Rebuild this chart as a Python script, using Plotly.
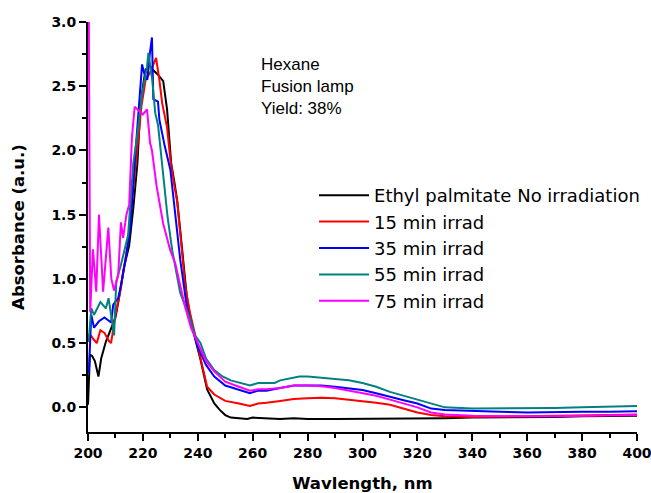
import plotly.graph_objects as go

# Ethyl palmitate, no irradiation
wl_black = [200.0, 200.7, 201.5, 202.5, 203.8, 204.8, 206.5, 208.4, 210.0, 211.3, 213.0, 215.0,
            216.5, 218.0, 219.0, 220.0, 221.0, 222.5, 224.0, 225.5, 227.4, 228.8, 229.6, 230.3,
            231.5, 232.5, 234.3, 236.0, 238.0, 240.0, 241.0, 243.4, 246.0, 248.0, 250.0, 252.0,
            255.0, 258.0, 260.0, 265.0, 270.0, 275.0, 280.0, 290.0, 300.0, 310.0, 320.0, 330.0,
            340.0, 350.0, 360.0, 370.0, 380.0, 390.0, 400.0]
abs_black = [0.02, 0.41, 0.40, 0.36, 0.24, 0.38, 0.51, 0.62, 0.70, 0.85, 1.08, 1.26,
             1.55, 1.90, 2.30, 2.50, 2.63, 2.66, 2.62, 2.59, 2.54, 2.32, 2.11, 1.90,
             1.75, 1.61, 1.23, 0.86, 0.62, 0.45, 0.37, 0.14, 0.03, -0.02, -0.06, -0.08,
             -0.085, -0.09, -0.08, -0.085, -0.09, -0.085, -0.09, -0.09, -0.09, -0.09, -0.09, -0.085,
             -0.08, -0.08, -0.075, -0.075, -0.07, -0.07, -0.065]

# 15 min irradiation
wl_15 = [200.0, 201.0, 202.0, 203.2, 204.5, 206.0, 207.5, 208.4, 210.0, 212.0, 214.6, 216.5,
         218.0, 219.5, 221.0, 222.5, 224.0, 224.8, 226.0, 227.0, 228.8, 230.0, 231.5, 232.5,
         234.3, 235.4, 237.0, 240.0, 243.4, 246.0, 250.0, 255.0, 259.0, 262.0, 265.0, 270.0,
         275.0, 280.0, 285.0, 290.0, 295.0, 300.0, 305.0, 310.0, 315.0, 320.0, 325.0, 330.0,
         340.0, 350.0, 360.0, 370.0, 380.0, 390.0, 400.0]
abs_15 = [0.51, 0.56, 0.53, 0.50, 0.60, 0.58, 0.52, 0.50, 0.72, 0.93, 1.29, 1.70,
          2.05, 2.35, 2.55, 2.60, 2.68, 2.72, 2.55, 2.37, 2.18, 1.93, 1.72, 1.60,
          1.20, 0.95, 0.75, 0.48, 0.16, 0.10, 0.05, 0.03, 0.01, 0.03, 0.035, 0.05,
          0.065, 0.07, 0.075, 0.07, 0.06, 0.05, 0.035, 0.02, -0.01, -0.04, -0.06, -0.07,
          -0.075, -0.075, -0.07, -0.065, -0.065, -0.06, -0.055]

# 35 min irradiation
wl_35 = [200.0, 200.3, 201.2, 202.2, 204.0, 206.0, 208.4, 209.2, 211.0, 212.0, 214.0, 215.5,
         217.0, 218.5, 219.7, 220.5, 221.6, 222.5, 223.3, 223.8, 225.5, 226.0, 228.0, 230.0,
         231.8, 233.6, 236.0, 238.0, 240.0, 243.0, 246.0, 250.0, 255.0, 259.0, 262.0, 265.0,
         270.0, 275.0, 280.0, 285.0, 290.0, 295.0, 300.0, 305.0, 310.0, 315.0, 320.0, 325.0,
         330.0, 340.0, 350.0, 360.0, 370.0, 380.0, 390.0, 400.0]
abs_35 = [0.31, 0.27, 0.72, 0.62, 0.67, 0.70, 0.66, 0.80, 0.85, 0.95, 1.19, 1.42,
          1.90, 2.35, 2.67, 2.60, 2.55, 2.75, 2.88, 2.40, 2.38, 2.24, 2.03, 1.85,
          1.48, 1.15, 0.78, 0.62, 0.47, 0.33, 0.24, 0.17, 0.14, 0.11, 0.13, 0.13,
          0.15, 0.17, 0.17, 0.17, 0.16, 0.15, 0.135, 0.11, 0.08, 0.055, 0.03, -0.01,
          -0.02, -0.03, -0.035, -0.04, -0.035, -0.035, -0.035, -0.03]

# 55 min irradiation
wl_55 = [200.0, 200.5, 201.2, 202.2, 204.5, 206.5, 207.5, 209.5, 210.3, 212.0, 214.6, 216.5,
         218.0, 219.7, 221.5, 222.0, 223.4, 224.5, 225.5, 226.5, 228.0, 229.0, 230.7, 233.6,
         237.0, 239.0, 241.0, 243.0, 246.0, 249.0, 252.0, 256.0, 259.0, 262.0, 265.0, 268.0,
         270.0, 274.0, 277.0, 280.0, 285.0, 290.0, 295.0, 300.0, 305.0, 310.0, 315.0, 320.0,
         325.0, 330.0, 340.0, 350.0, 360.0, 370.0, 380.0, 390.0, 400.0]
abs_55 = [0.51, 0.58, 0.77, 0.72, 0.82, 0.77, 0.85, 0.56, 0.98, 1.11, 1.34, 1.90,
          2.13, 2.44, 2.65, 2.76, 2.55, 2.29, 2.20, 2.00, 1.70, 1.48, 1.22, 0.89,
          0.70, 0.56, 0.50, 0.38, 0.29, 0.24, 0.21, 0.19, 0.17, 0.19, 0.19, 0.19,
          0.21, 0.23, 0.24, 0.24, 0.23, 0.22, 0.21, 0.19, 0.16, 0.12, 0.09, 0.06,
          0.03, 0.0, -0.01, -0.01, -0.01, -0.005, 0.0, 0.005, 0.01]

# 75 min irradiation
wl_75 = [200.3, 200.8, 201.8, 203.0, 204.0, 205.5, 207.4, 208.5, 209.5, 211.0, 212.0, 212.8,
         214.0, 215.0, 216.0, 217.0, 218.0, 219.0, 220.0, 221.5, 222.6, 223.3, 225.0, 227.4,
         230.0, 231.8, 233.6, 235.4, 237.5, 240.0, 243.0, 246.0, 250.0, 255.0, 259.0, 262.0,
         265.0, 270.0, 275.0, 280.0, 285.0, 290.0, 295.0, 300.0, 305.0, 310.0, 315.0, 320.0,
         325.0, 330.0, 340.0, 350.0, 360.0, 370.0, 380.0, 390.0, 400.0]
abs_75 = [3.0, 0.74, 1.23, 0.90, 1.50, 0.90, 1.40, 1.00, 0.91, 1.03, 1.44, 1.32,
          1.50, 1.58, 2.10, 2.34, 2.32, 2.30, 2.28, 2.32, 2.06, 2.00, 1.72, 1.43,
          1.22, 1.12, 0.94, 0.78, 0.62, 0.50, 0.36, 0.28, 0.20, 0.16, 0.13, 0.14,
          0.14, 0.15, 0.17, 0.17, 0.165, 0.15, 0.13, 0.115, 0.09, 0.06, 0.03, 0.0,
          -0.04, -0.055, -0.065, -0.07, -0.07, -0.07, -0.065, -0.065, -0.06]

series = [
    ("Ethyl palmitate No irradiation", wl_black, abs_black, "#000000"),
    ("15 min irrad", wl_15, abs_15, "#FF0000"),
    ("35 min irrad", wl_35, abs_35, "#0000FF"),
    ("55 min irrad", wl_55, abs_55, "#008080"),
    ("75 min irrad", wl_75, abs_75, "#FF00FF"),
]

fig = go.Figure()
for name, wl, ab, color in series:
    fig.add_trace(go.Scatter(x=wl, y=ab, mode="lines", name=name,
                             line=dict(color=color, width=2)))

tick_font = dict(family="DejaVu Sans", size=14, color="black", weight="bold")
title_font = dict(family="DejaVu Sans", size=16.5, color="black", weight="bold")

fig.update_xaxes(
    range=[200, 400], dtick=20, tick0=200, automargin=False, ticklabeloverflow="allow",
    showline=True, linecolor="black", linewidth=2, mirror=False,
    ticks="outside", ticklen=7, tickwidth=2, tickcolor="black",
    minor=dict(dtick=10, ticks="outside", ticklen=4, tickwidth=2, tickcolor="black"),
    showgrid=False, zeroline=False, tickfont=tick_font,
    title=dict(text="Wavlength, nm", font=title_font, standoff=20),
)
fig.update_yaxes(
    range=[-0.192, 3.0], dtick=0.5, tick0=0, tickformat=".1f", automargin=False,
    ticklabeloverflow="allow",
    showline=True, linecolor="black", linewidth=2, mirror=False,
    ticks="outside", ticklen=7, tickwidth=2, tickcolor="black",
    minor=dict(dtick=0.25, ticks="outside", ticklen=4, tickwidth=2, tickcolor="black"),
    showgrid=False, zeroline=False, tickfont=tick_font,
    title=dict(text="Absorbance (a.u.)", font=title_font, standoff=23),
)

fig.add_annotation(
    x=0.312, y=0.925, xref="paper", yref="paper", xanchor="left", yanchor="top",
    text="Hexane<br>Fusion lamp<br>Yield: 38%", align="left", showarrow=False,
    font=dict(family="Liberation Sans, Arial", size=17, color="black"),
)

fig.update_layout(
    width=651, height=493,
    margin=dict(l=88, r=14, t=22, b=61, autoexpand=False),
    plot_bgcolor="white", paper_bgcolor="white",
    legend=dict(x=0.4117, y=0.622, xanchor="left", yanchor="top",
                bgcolor="rgba(0,0,0,0)", borderwidth=0, itemwidth=50,
                font=dict(family="DejaVu Sans", size=18, color="black"),
                tracegroupgap=0),
    showlegend=True,
)

# drop the default page margin so the figure sits at the window's corner
fig.write_html("out.html", config={"displayModeBar": False},
               post_script="document.body.style.margin = '0';")
